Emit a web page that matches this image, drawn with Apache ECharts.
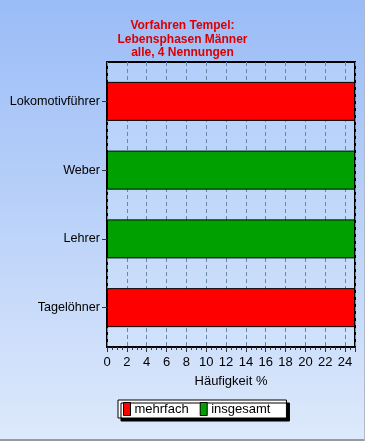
<!DOCTYPE html>
<html><head><meta charset="utf-8">
<script src="https://cdn.jsdelivr.net/npm/echarts@6/dist/echarts.min.js"></script>
<style>html,body{margin:0;padding:0;}#c{width:365px;height:441px;}</style>
</head><body><div id="c"></div>
<script>
const categories = ['Lokomotivführer', 'Weber', 'Lehrer', 'Tagelöhner'];
const mehrfach = [25, null, null, 25];
const insgesamt = [null, 25, 25, null];
const titleText = 'Vorfahren Tempel:\nLebensphasen Männer\nalle, 4 Nennungen';
const axisName = 'Häufigkeit %';

const chart = echarts.init(document.getElementById('c'), null, {renderer: 'canvas'});
const font = 'Arial, "Liberation Sans", sans-serif';
chart.setOption({
  animation: false,
  backgroundColor: {type: 'linear', x: 0, y: 0, x2: 0, y2: 1, colorStops: [
    {offset: 0, color: '#9abcf7'}, {offset: 1, color: '#dde9fb'}]},
  title: {
    text: titleText, left: 'center', top: 19, padding: 0,
    textStyle: {color: '#dd0000', fontWeight: 'bold', fontSize: 12, fontFamily: font, lineHeight: 13.5}
  },
  grid: [
    {
      left: 107, right: 10, top: 62, bottom: 94, show: true,
      backgroundColor: {type: 'linear', x: 0, y: 0, x2: 0, y2: 1, colorStops: [
        {offset: 0, color: '#b2cefa'}, {offset: 1, color: '#d0e2fb'}]},
      borderColor: '#000', borderWidth: 2
    },
    {left: 107, right: 10, top: 67, bottom: 99}
  ],
  legend: {
    left: 118, top: 400, padding: [2, 16, 2, 5], itemGap: 11,
    itemWidth: 7, itemHeight: 13, icon: 'rect',
    backgroundColor: '#fff', borderColor: '#000', borderWidth: 1,
    shadowColor: '#000', shadowOffsetX: 3, shadowOffsetY: 3, shadowBlur: 0,
    textStyle: {color: '#000', fontSize: 13, fontFamily: font, padding: [0, 0, 0, -1]},
    itemStyle: {borderColor: '#000', borderWidth: 1},
    data: ['mehrfach', 'insgesamt']
  },
  xAxis: [
    {
      gridIndex: 0, type: 'value', min: 0, max: 25, interval: 2,
      name: axisName, nameLocation: 'middle', nameGap: 28,
      nameTextStyle: {color: '#000', fontSize: 13, fontFamily: font},
      axisLine: {show: true, lineStyle: {color: '#000', width: 2}},
      axisTick: {show: true, length: 5, lineStyle: {color: '#333'}},
      minorTick: {show: true, splitNumber: 4, length: 3, lineStyle: {color: '#333'}},
      axisLabel: {color: '#000', fontSize: 13, fontFamily: font, margin: 9, showMaxLabel: false},
      splitLine: {show: true, lineStyle: {color: '#6a86a8', type: [4, 3], width: 1}}
    },
    {gridIndex: 1, type: 'value', min: 0, max: 25, show: false, splitLine: {show: false}}
  ],
  yAxis: [
    {gridIndex: 0, type: 'value', show: false, splitLine: {show: false}},
    {
      gridIndex: 1, type: 'category', data: categories, inverse: true,
      axisLine: {show: false},
      axisTick: {show: true, alignWithLabel: true, length: 5, lineStyle: {color: '#333'}},
      axisLabel: {color: '#000', fontSize: 12.6, fontFamily: font, margin: 7},
      splitLine: {show: false}
    }
  ],
  series: [
    {name: 'mehrfach', type: 'bar', stack: 'a', data: mehrfach, barWidth: 39,
     xAxisIndex: 1, yAxisIndex: 1,
     itemStyle: {color: '#ff0000', borderColor: '#000', borderWidth: 1}},
    {name: 'insgesamt', type: 'bar', stack: 'a', data: insgesamt, barWidth: 39,
     xAxisIndex: 1, yAxisIndex: 1,
     itemStyle: {color: '#00a000', borderColor: '#000', borderWidth: 1}}
  ],
  graphic: [
    {type: 'line', shape: {x1: 0, y1: 440, x2: 365, y2: 440}, silent: true,
     style: {stroke: '#9a9a9a', lineWidth: 2}},
    {type: 'line', shape: {x1: 364.5, y1: 0, x2: 364.5, y2: 441}, silent: true,
     style: {stroke: '#b0b8c4', lineWidth: 1}}
  ]
});
</script></body></html>
